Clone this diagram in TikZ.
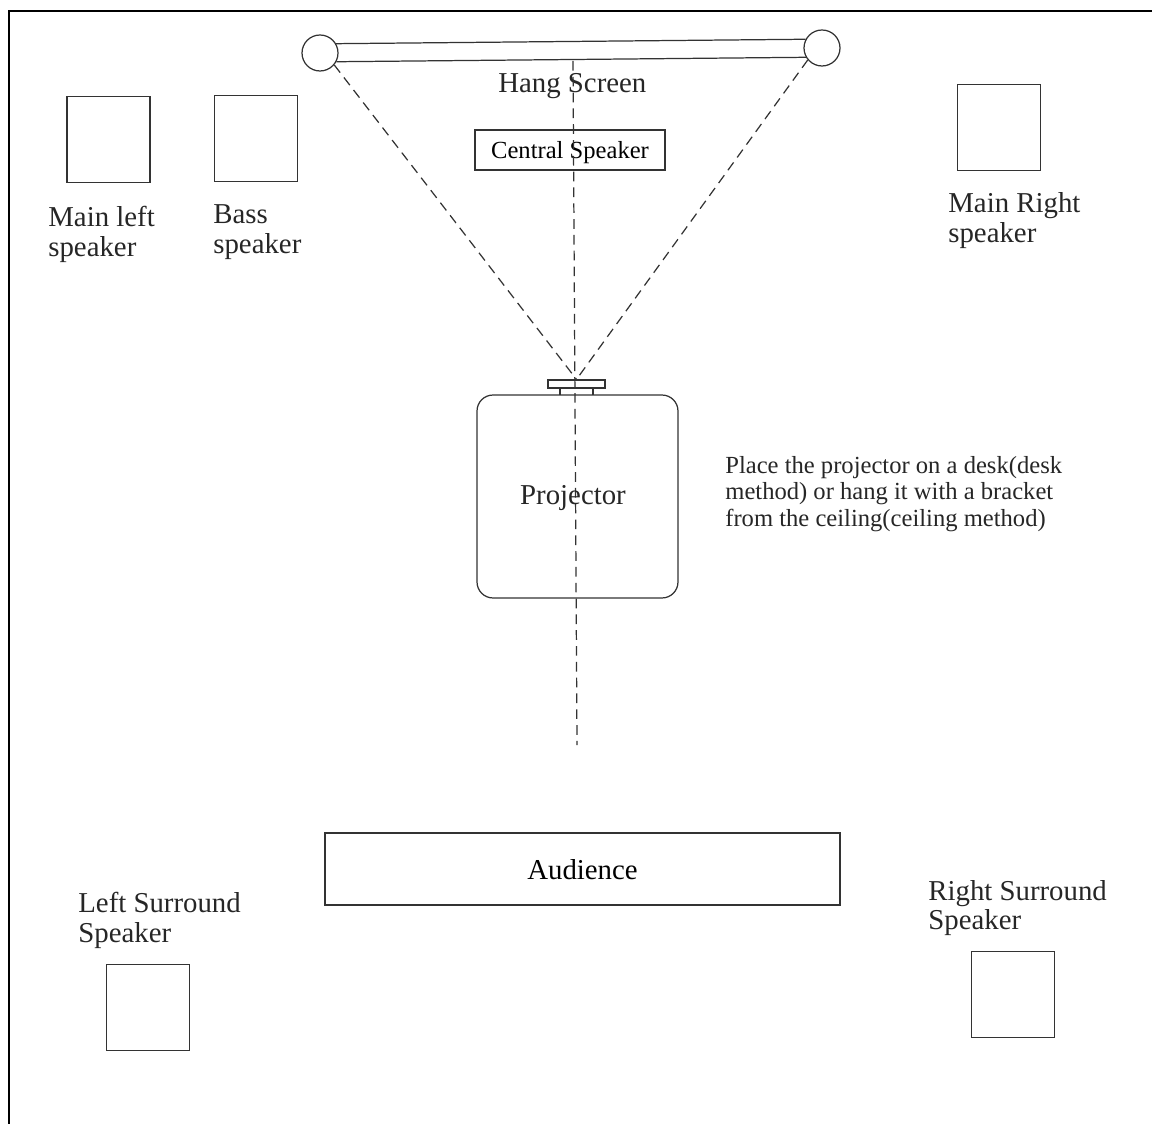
\documentclass[tikz,border=0pt]{standalone}
\usepackage{fontspec}
\setmainfont{Liberation Serif}
\usetikzlibrary{positioning}

\tikzset{
  ink/.style={draw=black!80, line width=0.7pt},
  spk/.style={ink, minimum width=1.66cm, minimum height=1.72cm, inner sep=0pt},
  lbl/.style={anchor=west, inner sep=0pt, align=left, text=black!85,
    font=\fontsize{16.4}{17}\selectfont},
  beam/.style={ink, dash pattern=on 5.5pt off 3.5pt},
}

\begin{document}
\begin{tikzpicture}[x=0.02cm, y=-0.02cm]
  \useasboundingbox (0,0) rectangle (1152,1124);
  % frame
  \draw [line width=1.15pt] (9,1124) -- (9,11) -- (1152,11);

  % hang screen
  \node [ink, circle, minimum size=0.72cm, inner sep=0pt] at (320,53) (lscr) {};
  \node [ink, circle, minimum size=0.72cm, inner sep=0pt] at (822,48) (rscr) {};
  \draw [ink] (lscr.30) -- (rscr.152);
  \draw [ink] (lscr.-28) -- (rscr.-150);
  \coordinate (scrmid) at (573,61);
  \node [lbl] at (498,86) (hang) {Hang Screen};
  \node [ink, fill=white, minimum width=3.8cm, minimum height=0.8cm, inner sep=0pt,
    text depth=0pt, font=\fontsize{14}{15}\selectfont] at (570,150) (cspk) {Central Speaker};

  % speakers
  \node [spk] at (108.5,139.5) (mls) {};
  \node [spk] at (256,138.5) (bass) {};
  \node [spk] at (999,127.5) (mrs) {};
  \node [spk] at (148,1007.5) (lss) {};
  \node [spk] at (1013,994.5) (rss) {};
  \node [lbl] at (48,234) (mlstxt) {Main left\\speaker};
  \node [lbl] at (213,232) (basstxt) {Bass\\speaker};
  \node [lbl] at (948,221) (mrstxt) {Main Right\\speaker};
  \node [lbl] at (78,920) (lsstxt) {Left Surround\\Speaker};
  \node [lbl] at (928,908) (rsstxt) {Right Surround\\Speaker};

  % projector
  \node [ink, fill=white, rounded corners=0.32cm, minimum width=4.02cm, minimum height=4.06cm,
    inner sep=0pt] at (577.5,496.5) (proj) {};
  \node [ink, fill=white, minimum width=1.14cm, minimum height=0.16cm, inner sep=0pt]
    at (576.5,384) (lens) {};
  \draw [ink] (560,388) -- (560,395);
  \draw [ink] (593,388) -- (593,395);
  \coordinate (axisend) at (577,745);
  \draw [beam] (scrmid) -- (axisend);
  \draw [beam] (lscr.-40) -- (lens.north);
  \draw [beam] (rscr.-140) -- (lens.north);
  \node [lbl, anchor=center, fill=none] at (573,498) (projtxt) {Projector};
  \node [lbl, font=\fontsize{14}{15.1}\selectfont] at (725,494) (note)
    {Place the projector on a desk(desk\\method) or hang it with a bracket\\from the ceiling(ceiling method)};

  % audience
  \node [ink, minimum width=10.3cm, minimum height=1.44cm, inner sep=0pt,
    text depth=0pt, font=\fontsize{16.4}{17}\selectfont] at (582.5,869) (aud) {Audience};
\end{tikzpicture}
\end{document}
